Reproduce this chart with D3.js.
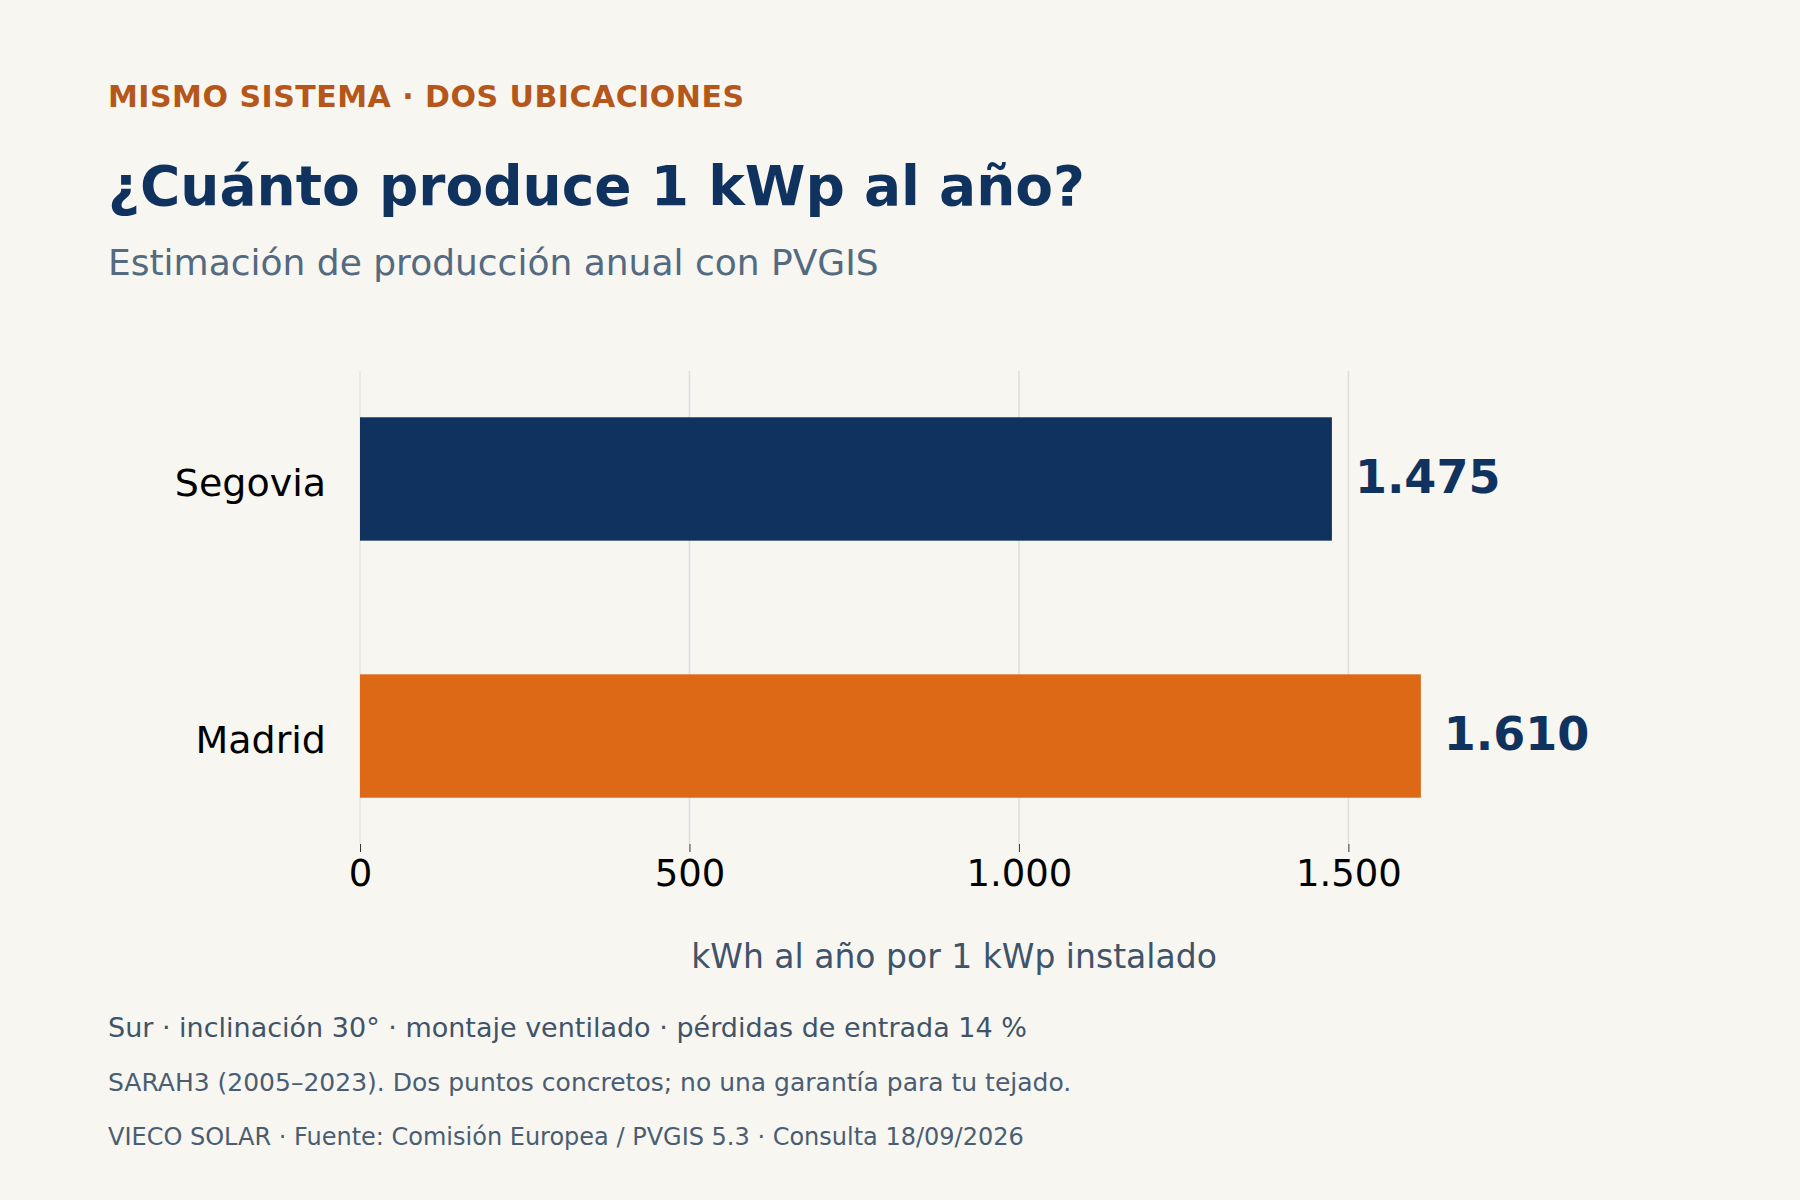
<!DOCTYPE html>
<html><head><meta charset="utf-8">
<script src="https://cdn.jsdelivr.net/npm/d3@7"></script>
<style>body{margin:0;background:#f7f6f1}svg{display:block}text{font-family:"DejaVu Sans",sans-serif}</style>
</head><body>
<script>
const categories = ["Segovia","Madrid"];
const values = [1475,1610];
const barColors = ["#10325f","#dd6815"];
const tickValues = [0,500,1000,1500];
const tickLabels = ["0","500","1.000","1.500"];

const W=1800,H=1200;
const svg=d3.select("body").append("svg").attr("width",W).attr("height",H);
svg.append("rect").attr("width",W).attr("height",H).attr("fill","#f7f6f1");

const x=d3.scaleLinear().domain([0,1850]).range([360,1579]);
const y=d3.scaleBand().domain(categories).range([371,844]).paddingInner(0.52).paddingOuter(0.18);

svg.append("text").attr("x",108).attr("y",107).attr("fill","#b5561a").attr("font-size",30).attr("font-weight","bold").attr("letter-spacing",0.5).text("MISMO SISTEMA · DOS UBICACIONES");
svg.append("text").attr("x",108).attr("y",205).attr("fill","#10325f").attr("font-size",55).attr("font-weight","bold").text("¿Cuánto produce 1 kWp al año?");
svg.append("text").attr("x",108).attr("y",275).attr("fill","#546a80").attr("font-size",36).text("Estimación de producción anual con PVGIS");

svg.append("g").selectAll("line").data(tickValues).join("line")
 .attr("x1",d=>x(d)).attr("x2",d=>x(d)).attr("y1",371).attr("y2",844)
 .attr("stroke",(d,i)=>i===0?"#e6e6e2":"#dcdedf").attr("stroke-width",1.5);

svg.append("g").selectAll("rect").data(categories).join("rect")
 .attr("x",x(0)).attr("y",d=>y(d)).attr("height",y.bandwidth())
 .attr("width",(d,i)=>x(values[i])-x(0)).attr("fill",(d,i)=>barColors[i]);

svg.append("g").selectAll("text").data(categories).join("text")
 .attr("x",x(values[0])+23).attr("x",(d,i)=>x(values[i])+23).attr("y",d=>y(d)+y.bandwidth()/2).attr("dy","0.3em")
 .attr("fill","#10325f").attr("font-size",46).attr("font-weight","bold")
 .text((d,i)=>d3.format(",")(values[i]).replace(/,/g,"."));

svg.append("g").selectAll("text").data(categories).join("text")
 .attr("x",326).attr("y",d=>y(d)+y.bandwidth()/2+4).attr("dy","0.35em").attr("text-anchor","end")
 .attr("font-size",38).attr("fill","#000").text(d=>d);

const ax=svg.append("g").attr("transform","translate(0,844)")
 .call(d3.axisBottom(x).tickValues(tickValues).tickFormat((d,i)=>tickLabels[i]).tickSize(8).tickPadding(8));
ax.select(".domain").remove();
ax.selectAll(".tick line").attr("stroke","#333");
ax.selectAll("text").attr("font-size",37).attr("fill","#000").attr("font-family","DejaVu Sans");

svg.append("text").attr("x",954).attr("y",968).attr("text-anchor","middle").attr("fill","#3f5369").attr("font-size",33).text("kWh al año por 1 kWp instalado");
svg.append("text").attr("x",108).attr("y",1037).attr("fill","#3f5369").attr("font-size",27).text("Sur · inclinación 30° · montaje ventilado · pérdidas de entrada 14 %");
svg.append("text").attr("x",108).attr("y",1091).attr("fill","#4a5d72").attr("font-size",25).text("SARAH3 (2005–2023). Dos puntos concretos; no una garantía para tu tejado.");
svg.append("text").attr("x",108).attr("y",1145).attr("fill","#4a5d72").attr("font-size",24).text("VIECO SOLAR · Fuente: Comisión Europea / PVGIS 5.3 · Consulta 18/09/2026");
</script>
</body></html>
